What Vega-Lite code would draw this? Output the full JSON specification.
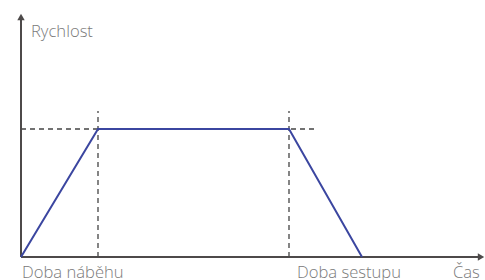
{
  "$schema": "https://vega.github.io/schema/vega-lite/v6.json",
  "width": 485,
  "height": 280,
  "padding": 0,
  "autosize": {"type": "none"},
  "background": "white",
  "config": {"view": {"stroke": null}},
  "datasets": {
    "profile": [
      {"t": 0, "v": 0, "order": 1},
      {"t": 77, "v": 128, "order": 2},
      {"t": 268, "v": 128, "order": 3},
      {"t": 341, "v": 0, "order": 4}
    ],
    "guides": [
      {"t": 0, "v": 128, "t2": 295, "v2": 128},
      {"t": 77, "v": 0, "t2": 77, "v2": 146},
      {"t": 268, "v": 0, "t2": 268, "v2": 146}
    ],
    "axes": [
      {"t": 0, "v": 0, "t2": 0, "v2": 238},
      {"t": 0, "v": 0, "t2": 458, "v2": 0}
    ],
    "arrows": [
      {"t": 0, "v": 240, "dir": "up"},
      {"t": 460, "v": 0, "dir": "right"}
    ],
    "labels": [
      {"t": 10, "v": 220, "label": "Rychlost"},
      {"t": 1, "v": -21, "label": "Doba náběhu"},
      {"t": 276, "v": -21, "label": "Doba sestupu"},
      {"t": 432, "v": -21, "label": "Čas"}
    ]
  },
  "layer": [
    {
      "data": {"name": "guides"},
      "mark": {"type": "rule", "color": "#444444", "strokeWidth": 1.3, "strokeDash": [5, 4]},
      "encoding": {
        "x": {"field": "t", "type": "quantitative", "scale": {"domain": [-21, 464], "nice": false, "zero": false}, "axis": null},
        "y": {"field": "v", "type": "quantitative", "scale": {"domain": [-23, 257], "nice": false, "zero": false}, "axis": null},
        "x2": {"field": "t2"},
        "y2": {"field": "v2"}
      }
    },
    {
      "data": {"name": "axes"},
      "mark": {"type": "rule", "color": "#4d4a4a", "strokeWidth": 2},
      "encoding": {
        "x": {"field": "t", "type": "quantitative", "scale": {"domain": [-21, 464], "nice": false, "zero": false}, "axis": null},
        "y": {"field": "v", "type": "quantitative", "scale": {"domain": [-23, 257], "nice": false, "zero": false}, "axis": null},
        "x2": {"field": "t2"},
        "y2": {"field": "v2"}
      }
    },
    {
      "data": {"name": "arrows"},
      "mark": {"type": "point", "filled": true, "color": "#4d4a4a", "opacity": 1, "size": 55},
      "encoding": {
        "x": {"field": "t", "type": "quantitative", "scale": {"domain": [-21, 464], "nice": false, "zero": false}, "axis": null},
        "y": {"field": "v", "type": "quantitative", "scale": {"domain": [-23, 257], "nice": false, "zero": false}, "axis": null},
        "shape": {"field": "dir", "type": "nominal", "scale": {"domain": ["up", "right"], "range": ["triangle-up", "triangle-right"]}, "legend": null}
      }
    },
    {
      "data": {"name": "profile"},
      "mark": {"type": "line", "color": "#3b46a0", "strokeWidth": 2},
      "encoding": {
        "x": {"field": "t", "type": "quantitative", "scale": {"domain": [-21, 464], "nice": false, "zero": false}, "axis": null},
        "y": {"field": "v", "type": "quantitative", "scale": {"domain": [-23, 257], "nice": false, "zero": false}, "axis": null},
        "order": {"field": "order"}
      }
    },
    {
      "data": {"name": "labels"},
      "mark": {"type": "text", "align": "left", "baseline": "alphabetic", "font": "Open Sans", "fontWeight": 300, "fontSize": 16.6, "color": "#7a7a7a"},
      "encoding": {
        "x": {"field": "t", "type": "quantitative", "scale": {"domain": [-21, 464], "nice": false, "zero": false}, "axis": null},
        "y": {"field": "v", "type": "quantitative", "scale": {"domain": [-23, 257], "nice": false, "zero": false}, "axis": null},
        "text": {"field": "label"}
      }
    }
  ]
}
